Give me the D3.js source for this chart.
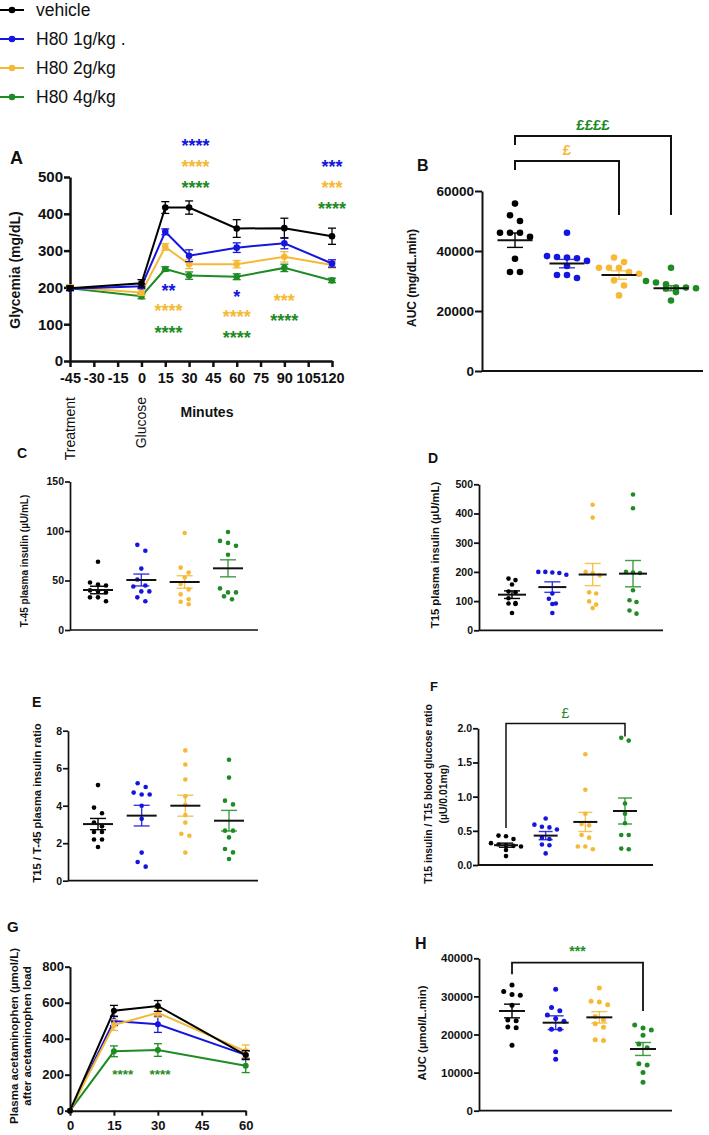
<!DOCTYPE html>
<html>
<head>
<meta charset="utf-8">
<script src="https://cdn.jsdelivr.net/npm/d3@7"></script>
<style>
body{margin:0;background:#fff;}
svg text{font-family:Arial,"Liberation Sans",sans-serif;}
</style>
</head>
<body>
<svg id="chart" width="709" height="1135"></svg>
<script>
// ---------------- data ----------------
const groups = ["vehicle", "H80 1g/kg .", "H80 2g/kg", "H80 4g/kg"];
const colors = ["#000000", "#1515e0", "#f5b935", "#1f8b24"];

// A: glycemia time course
const timeA = [-45, 0, 15, 30, 60, 90, 120];
const timeTicksA = [-45, -30, -15, 0, 15, 30, 45, 60, 75, 90, 105, 120];
const glyTicks = [0, 100, 200, 300, 400, 500];
const glyVehicle = [198, 211, 417, 417, 360, 361, 339];
const glyVehicleSem = [6, 10, 16, 18, 24, 27, 22];
const gly1g = [196, 203, 351, 286, 308, 320, 265];
const gly1gSem = [5, 6, 8, 16, 13, 15, 10];
const gly2g = [200, 186, 310, 263, 263, 283, 261];
const gly2gSem = [7, 8, 9, 12, 10, 14, 8];
const gly4g = [198, 176, 250, 232, 229, 253, 219];
const gly4gSem = [5, 7, 6, 10, 8, 10, 6];
// significance marks: minute, glycemia level, text, group
const starsA = [
  [34, 595, "****", 1], [34, 538, "****", 2], [34, 481, "****", 3],
  [120, 538, "***", 1], [120, 481, "***", 2], [120, 424, "****", 3],
  [17, 201, "**", 1], [17, 147, "****", 2], [17, 87, "****", 3],
  [60, 185, "*", 1], [60, 130, "****", 2], [60, 73, "****", 3],
  [90, 174, "***", 2], [90, 120, "****", 3]
];
const eventsA = [[-45, "Treatment"], [0, "Glucose"]];

// B: glycemia AUC
const aucBVehicle = [55800, 51900, 50000, 46100, 46100, 46100, 44700, 37400, 33000, 33000];
const aucB1g = [46100, 38300, 38000, 37800, 37600, 36700, 35000, 32000, 32000, 31000];
const aucB2g = [37800, 36300, 34400, 34400, 34400, 33000, 32400, 30200, 28500, 25200];
const aucB4g = [34400, 30000, 29500, 28900, 27800, 27800, 27600, 27500, 26300, 23500];
const aucBMean = [43600, 35800, 32000, 27600];
const aucBSem = [2400, 1400, 1400, 850];
const aucBTicks = [0, 20000, 40000, 60000];
// bracket: from group, to group, top level, left end, right end, label, label level, colour group
const bracketsB = [[0, 3, 78300, 75300, 52000, "££££", 82000, 3], [0, 2, 70000, 67000, 52000, "£", 73700, 2]];

// C: T-45 insulin
const insCVehicle = [69, 48, 46, 45, 40, 39, 38, 33, 33, 29];
const insC1g = [86, 80, 62, 51, 45, 44, 39, 39, 33, 29];
const insC2g = [98, 63, 58, 53, 46.5, 41, 36, 31, 28.6, 26];
const insC4g = [99, 90, 88, 85, 76, 42, 38, 38, 34, 31];
const insCMean = [40.4, 50.5, 48.5, 62.3];
const insCSem = [3.8, 6, 6.3, 8.6];
const insCTicks = [0, 50, 100, 150];

// D: T15 insulin
const insDVehicle = [177, 172, 157, 133, 130, 110, 93, 92, 90, 59];
const insD1g = [200, 200, 198, 196, 190, 126, 108, 92, 90, 59];
const insD2g = [430, 386, 200, 195, 188, 130, 126, 99, 88, 76];
const insD4g = [465, 418, 200, 198, 196, 137, 103, 97, 68, 57];
const insDMean = [122, 148, 191, 194];
const insDSem = [13, 18, 38, 45];
const insDTicks = [0, 100, 200, 300, 400, 500];

// E: T15 / T-45 ratio
const ratioEVehicle = [5.1, 3.9, 3.6, 3.1, 2.9, 2.6, 2.6, 2.2, 2.2, 1.8];
const ratioE1g = [5.2, 5.0, 4.7, 4.6, 4.6, 4.0, 3.3, 1.5, 1.0, 0.75];
const ratioE2g = [6.95, 6.2, 5.4, 4.5, 4.05, 3.5, 3.1, 2.5, 2.4, 1.5];
const ratioE4g = [6.45, 5.5, 4.27, 4.07, 2.67, 2.67, 2.31, 1.69, 1.51, 1.16];
const ratioEMean = [3.02, 3.47, 4.0, 3.2];
const ratioESem = [0.3, 0.55, 0.56, 0.55];
const ratioETicks = [0, 2, 4, 6, 8];

// F: insulin / glucose ratio
const ratioFVehicle = [0.43, 0.42, 0.38, 0.32, 0.30, 0.29, 0.28, 0.27, 0.22, 0.13];
const ratioF1g = [0.68, 0.59, 0.56, 0.55, 0.52, 0.40, 0.38, 0.30, 0.29, 0.17];
const ratioF2g = [1.62, 1.10, 0.75, 0.60, 0.58, 0.44, 0.40, 0.27, 0.27, 0.23];
const ratioF4g = [1.86, 1.82, 0.90, 0.75, 0.61, 0.44, 0.44, 0.24, 0.23];
const ratioFMean = [0.29, 0.43, 0.63, 0.79];
const ratioFSem = [0.03, 0.06, 0.14, 0.19];
const ratioFTicks = [0, 0.5, 1, 1.5, 2];
const bracketsF = [[0, 3, 2.07, 0.54, 1.88, "£", 2.22, 3]];

// G: acetaminophen
const timeG = [0, 15, 30, 60];
const timeTicksG = [0, 15, 30, 45, 60];
const acetTicks = [0, 200, 400, 600, 800];
const acetVehicle = [0, 555, 582, 309];
const acetVehicleSem = [0, 30, 30, 25];
const acet1g = [0, 498, 480, 310];
const acet1gSem = [0, 25, 45, 20];
const acet2g = [0, 476, 544, 330];
const acet2gSem = [0, 30, 25, 35];
const acet4g = [0, 330, 337, 250];
const acet4gSem = [0, 30, 35, 38];
const starsG = [[18, 220, "****", 3], [30.7, 220, "****", 3]];

// H: acetaminophen AUC
const aucHVehicle = [33000, 31300, 30500, 30300, 27700, 23800, 23600, 22000, 21800, 17200];
const aucH1g = [31900, 27100, 26250, 25100, 24200, 23500, 21350, 21350, 15500, 13500];
const aucH2g = [32200, 28700, 28500, 27800, 24700, 23800, 22800, 21900, 18600, 18400];
const aucH4g = [22500, 21700, 21200, 19800, 17500, 16500, 12300, 12000, 10000, 7500];
const aucHMean = [26170, 23100, 24500, 16200];
const aucHSem = [1800, 1800, 1500, 1700];
const aucHTicks = [0, 10000, 20000, 30000, 40000];
const bracketsH = [[0, 3, 38850, 35800, 26170, "***", 42700, 3]];

// ---------------- drawing ----------------
const svg = d3.select("#chart");
const INK = "#111";
const plain = d => String(d);   // hyphen minus, as in the original

function styleAxis(g, fs, sw) {
  g.select(".domain").attr("stroke", INK).attr("stroke-width", sw);
  g.selectAll(".tick line").attr("stroke", INK).attr("stroke-width", sw);
  g.selectAll(".tick text").attr("fill", INK).attr("font-family", null)
    .style("font-size", fs + "px").style("font-weight", "bold");
}
function yAxis(scale, x, ticks, fmt, fs, sw, ts, pad) {
  const g = svg.append("g").attr("transform", `translate(${x},0)`)
    .call(d3.axisLeft(scale).tickValues(ticks).tickFormat(fmt).tickSize(ts).tickSizeOuter(0).tickPadding(pad));
  styleAxis(g, fs, sw);
}
function xAxis(scale, y, ticks, fmt, fs, sw, ts, pad) {
  const g = svg.append("g").attr("transform", `translate(0,${y})`)
    .call(d3.axisBottom(scale).tickValues(ticks).tickFormat(fmt).tickSize(ts).tickSizeOuter(0).tickPadding(pad));
  styleAxis(g, fs, sw);
}
function label(x, y, txt, fs, opts = {}) {
  return svg.append("text").attr("x", x).attr("y", y).text(txt)
    .attr("text-anchor", opts.anchor || "start")
    .attr("fill", opts.color || INK)
    .style("font-size", fs + "px").style("font-weight", opts.weight || "bold");
}
function vLabel(x, y, txt, fs, anchor = "middle", weight = "bold") {
  svg.append("text").attr("transform", `translate(${x},${y}) rotate(-90)`)
    .attr("text-anchor", anchor).attr("dominant-baseline", "central")
    .attr("fill", INK).style("font-size", fs + "px").style("font-weight", weight).text(txt);
}
function mark(x, yc, txt, color, fs, weight = "bold") {
  const k = txt.includes("£") ? 0.36 : 0.56;
  label(x, yc + k * fs, txt, fs, {anchor: "middle", color, weight});
}

// symmetric row swarm (GraphPad-like)
function swarm(vals, y, d) {
  const order = d3.range(vals.length).sort((a, b) => d3.descending(vals[a], vals[b]));
  const off = new Array(vals.length);
  let cluster = [];
  const flush = () => {
    const n = cluster.length;
    cluster.forEach((i, j) => off[i] = (j - (n - 1) / 2) * d);
    cluster = [];
  };
  order.forEach(i => {
    if (cluster.length && Math.abs(y(vals[i]) - y(vals[cluster[0]])) >= d * 0.75) flush();
    cluster.push(i);
  });
  flush();
  return off;
}

// ---------- legend ----------
const legendY = d3.scalePoint().domain(groups).range([10, 97]);
groups.forEach((g, i) => {
  const yy = legendY(g);
  svg.append("line").attr("x1", 0).attr("x2", 24).attr("y1", yy).attr("y2", yy)
    .attr("stroke", colors[i]).attr("stroke-width", 2);
  svg.append("circle").attr("cx", 12).attr("cy", yy).attr("r", 3.3).attr("fill", colors[i]);
  label(36, yy + 6, g, 17.5, {weight: "normal", color: "#111"});
});

// ---------- line panels ----------
function linePanel(o) {
  const x = d3.scaleLinear().domain(o.xdom).range(o.xr);
  const y = d3.scaleLinear().domain(o.ydom).range(o.yr);
  yAxis(y, o.xr[0], o.yticks, plain, o.fs, o.sw, o.ts, o.ypad);
  xAxis(x, y(0), o.xticks, plain, o.xfs || o.fs, o.sw, o.ts, o.xpad);
  o.series.forEach(s => {
    const c = colors[s.g];
    const pts = o.times.map((t, i) => ({t, v: s.v[i], e: s.e[i]}));
    svg.append("path").datum(pts)
      .attr("d", d3.line().x(d => x(d.t)).y(d => y(d.v)))
      .attr("fill", "none").attr("stroke", c).attr("stroke-width", o.lw);
    const eb = svg.append("g").attr("stroke", c).attr("stroke-width", 1.3);
    pts.filter(d => d.e > 0).forEach(d => {
      eb.append("line").attr("x1", x(d.t)).attr("x2", x(d.t)).attr("y1", y(d.v - d.e)).attr("y2", y(d.v + d.e));
      [d.v - d.e, d.v + d.e].forEach(v => eb.append("line")
        .attr("x1", x(d.t) - o.cap).attr("x2", x(d.t) + o.cap).attr("y1", y(v)).attr("y2", y(v)));
    });
    svg.append("g").selectAll("circle").data(pts).join("circle")
      .attr("cx", d => x(d.t)).attr("cy", d => y(d.v)).attr("r", o.mr).attr("fill", c);
  });
  return {x, y};
}

// A
const A = linePanel({
  xdom: [-45, 120], xr: [70, 332], ydom: [0, 500], yr: [361, 177],
  xticks: timeTicksA, yticks: glyTicks, fs: 15, xfs: 14.5, sw: 2.5, ts: 6, ypad: 1, xpad: 6,
  lw: 2, cap: 4, mr: 3.3, times: timeA,
  series: [
    {g: 3, v: gly4g, e: gly4gSem}, {g: 2, v: gly2g, e: gly2gSem},
    {g: 1, v: gly1g, e: gly1gSem}, {g: 0, v: glyVehicle, e: glyVehicleSem}
  ]
});
starsA.forEach(s => mark(A.x(s[0]), A.y(s[1]), s[2], colors[s[3]], 18));
eventsA.forEach(ev => vLabel(A.x(ev[0]), 397, ev[1], 14, "end", "normal"));
label(10, 164, "A", 18);
label(207, 417, "Minutes", 14, {anchor: "middle"});
vLabel(15, 270, "Glycemia (mg/dL)", 14);

// G
const G = linePanel({
  xdom: [0, 60], xr: [70, 245.7], ydom: [0, 800], yr: [1110.7, 966.7],
  xticks: timeTicksG, yticks: acetTicks, fs: 13, sw: 2, ts: 5, ypad: 1, xpad: 5,
  lw: 2, cap: 4, mr: 3, times: timeG,
  series: [
    {g: 3, v: acet4g, e: acet4gSem}, {g: 1, v: acet1g, e: acet1gSem},
    {g: 2, v: acet2g, e: acet2gSem}, {g: 0, v: acetVehicle, e: acetVehicleSem}
  ]
});
starsG.forEach(s => mark(G.x(s[0]), G.y(s[1]), s[2], colors[s[3]], 13.5));
label(7, 932, "G", 15);
vLabel(14, 1036, "Plasma acetaminophen (µmol/L)", 11.5);
vLabel(27, 1036, "after acetaminophen load", 11.5);

// ---------- dot panels ----------
function dotPanel(o) {
  const y = d3.scaleLinear().domain(o.ydom).range(o.yr);
  const x = d3.scalePoint().domain(groups).range(o.cx);
  yAxis(y, o.ax[0], o.ticks, o.fmt, o.fs, o.sw, o.ts, 1);
  svg.append("line").attr("x1", o.ax[0]).attr("x2", o.ax[1]).attr("y1", y(0)).attr("y2", y(0))
    .attr("stroke", INK).attr("stroke-width", o.sw);
  o.data.forEach((vals, gi) => {
    const cx0 = x(groups[gi]);
    const offs = swarm(vals, y, o.d);
    svg.append("g").selectAll("circle").data(vals).join("circle")
      .attr("cx", (d, i) => cx0 + offs[i]).attr("cy", d => y(d)).attr("r", o.r).attr("fill", colors[gi]);
  });
  o.data.forEach((vals, gi) => {
    const cx0 = x(groups[gi]);
    const m = o.mean[gi], s = o.sem[gi];
    const eg = svg.append("g").attr("stroke", colors[gi]).attr("stroke-width", 1.4)
      .attr("stroke-opacity", gi === 0 ? 1 : 0.85);
    eg.append("line").attr("x1", cx0).attr("x2", cx0).attr("y1", y(m - s)).attr("y2", y(m + s));
    [m - s, m + s].forEach(v => eg.append("line").attr("x1", cx0 - o.cap).attr("x2", cx0 + o.cap)
      .attr("y1", y(v)).attr("y2", y(v)));
    svg.append("line").attr("x1", cx0 - o.mw).attr("x2", cx0 + o.mw).attr("y1", y(m)).attr("y2", y(m))
      .attr("stroke", INK).attr("stroke-width", 2);
  });
  (o.brackets || []).forEach(b => {
    const x1 = x(groups[b[0]]), x2 = x(groups[b[1]]);
    svg.append("path")
      .attr("d", `M${x1},${y(b[3])}V${y(b[2])}H${x2}V${y(b[4])}`)
      .attr("fill", "none").attr("stroke", INK).attr("stroke-width", o.bw);
    mark((x1 + x2) / 2, y(b[6]), b[5], colors[b[7]], o.bfs, o.bweight);
  });
  return {x, y};
}

// B
dotPanel({
  ydom: [0, 60000], yr: [371, 191], ax: [482, 703], cx: [515, 671],
  ticks: aucBTicks, fmt: plain, fs: 13.5, sw: 2, ts: 7,
  data: [aucBVehicle, aucB1g, aucB2g, aucB4g], mean: aucBMean, sem: aucBSem,
  r: 3.3, d: 10, cap: 8, mw: 17.5, brackets: bracketsB, bw: 2, bfs: 15, bweight: "bold"
});
label(417, 171, "B", 16);
vLabel(412, 278, "AUC (mg/dL.min)", 12);

// C
dotPanel({
  ydom: [0, 150], yr: [630, 481.5], ax: [70, 258], cx: [98, 228],
  ticks: insCTicks, fmt: plain, fs: 10.5, sw: 1.7, ts: 5,
  data: [insCVehicle, insC1g, insC2g, insC4g], mean: insCMean, sem: insCSem,
  r: 2.3, d: 8, cap: 8, mw: 15
});
label(17, 458, "C", 14);
vLabel(24, 561, "T-45 plasma insulin (µU/mL)", 10);

// D
dotPanel({
  ydom: [0, 500], yr: [630.3, 484.3], ax: [479, 663], cx: [512, 633],
  ticks: insDTicks, fmt: plain, fs: 10.5, sw: 1.8, ts: 5,
  data: [insDVehicle, insD1g, insD2g, insD4g], mean: insDMean, sem: insDSem,
  r: 2.3, d: 7, cap: 8, mw: 14
});
label(428, 463, "D", 14);
vLabel(435, 555, "T15 plasma insulin (µU/mL)", 11.3);

// E
dotPanel({
  ydom: [0, 8], yr: [880.7, 730.7], ax: [68, 258], cx: [98, 229],
  ticks: ratioETicks, fmt: plain, fs: 10.5, sw: 1.7, ts: 5,
  data: [ratioEVehicle, ratioE1g, ratioE2g, ratioE4g], mean: ratioEMean, sem: ratioESem,
  r: 2.3, d: 8, cap: 8, mw: 15
});
label(32, 707, "E", 14);
vLabel(37, 803, "T15 / T-45 plasma insulin ratio", 11.2);

// F
dotPanel({
  ydom: [0, 2], yr: [865, 728.3], ax: [478, 653], cx: [506, 625],
  ticks: ratioFTicks, fmt: d3.format(".1f"), fs: 10.5, sw: 1.8, ts: 5,
  data: [ratioFVehicle, ratioF1g, ratioF2g, ratioF4g], mean: ratioFMean, sem: ratioFSem,
  r: 2.3, d: 7.5, cap: 7, mw: 12, brackets: bracketsF, bw: 1.5, bfs: 14, bweight: "normal"
});
label(430, 691, "F", 13);
vLabel(428, 794, "T15 insulin / T15 blood glucose ratio", 10.4);
vLabel(443, 794, "(µU/0.01mg)", 10.4);

// H
dotPanel({
  ydom: [0, 40000], yr: [1110.7, 958.3], ax: [479, 672], cx: [512, 643],
  ticks: aucHTicks, fmt: plain, fs: 11.5, sw: 1.8, ts: 5,
  data: [aucHVehicle, aucH1g, aucH2g, aucH4g], mean: aucHMean, sem: aucHSem,
  r: 2.5, d: 8.3, cap: 8, mw: 13, brackets: bracketsH, bw: 1.8, bfs: 14, bweight: "bold"
});
label(415, 949, "H", 16);
vLabel(422, 1033, "AUC (µmol/L.min)", 11.3);
</script>
</body>
</html>
